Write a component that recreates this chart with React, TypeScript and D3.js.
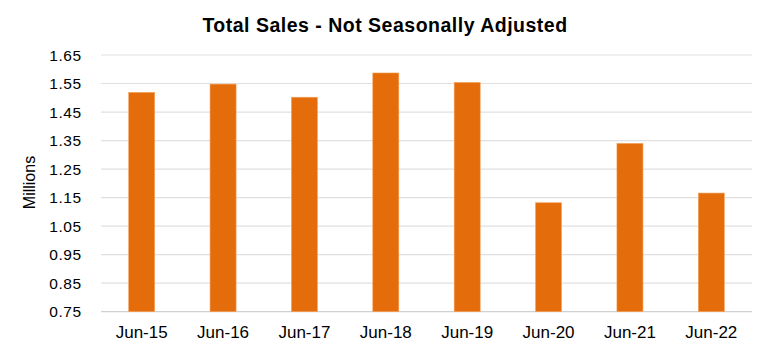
import React from "react";
import * as d3 from "d3";

const categories = ["Jun-15", "Jun-16", "Jun-17", "Jun-18", "Jun-19", "Jun-20", "Jun-21", "Jun-22"];
const values = [1.519, 1.548, 1.502, 1.587, 1.554, 1.132, 1.34, 1.166];
const yTicks = [0.75, 0.85, 0.95, 1.05, 1.15, 1.25, 1.35, 1.45, 1.55, 1.65];
const title = "Total Sales - Not Seasonally Adjusted";
const yLabel = "Millions";

export default function App() {
  const W = 769, H = 352;
  const left = 101, right = 752, top = 55, bottom = 311.7;
  const x = d3.scaleBand().domain(categories).range([left, right]).paddingInner(0.68).paddingOuter(0.34);
  const y = d3.scaleLinear().domain([0.75, 1.65]).range([bottom, top]);
  const font = "'Liberation Sans', Arial, sans-serif";
  return (
    <svg width={W} height={H} style={{ position: "absolute", left: 0, top: 0, background: "#fff" }}>
      <text x={385} y={31.5} textAnchor="middle" fontFamily={font} fontWeight="bold" fontSize={19.5} letterSpacing={0.5} fill="#000">{title}</text>
      {yTicks.map((t) => (
        <g key={t}>
          <line x1={left} x2={right} y1={y(t)} y2={y(t)} stroke={t === 0.75 ? "#d0d0d0" : "#e0e0e0"} strokeWidth={1.2} />
          <text x={81.5} y={y(t)} dy="0.36em" textAnchor="end" fontFamily={font} fontSize={15.5} letterSpacing={0.5} fill="#000">{t.toFixed(2)}</text>
        </g>
      ))}
      {categories.map((c, i) => (
        <rect key={c} x={x(c)} y={y(values[i])} width={x.bandwidth()} height={bottom - y(values[i])} fill="#E46C0A" stroke="#F4A460" strokeWidth={0.6} />
      ))}
      {categories.map((c) => (
        <text key={c} x={(x(c) as number) + x.bandwidth() / 2} y={338} textAnchor="middle" fontFamily={font} fontSize={17} fill="#000">{c}</text>
      ))}
      <text transform="translate(35,182.5) rotate(-90)" textAnchor="middle" fontFamily={font} fontSize={16} fill="#000">{yLabel}</text>
    </svg>
  );
}
